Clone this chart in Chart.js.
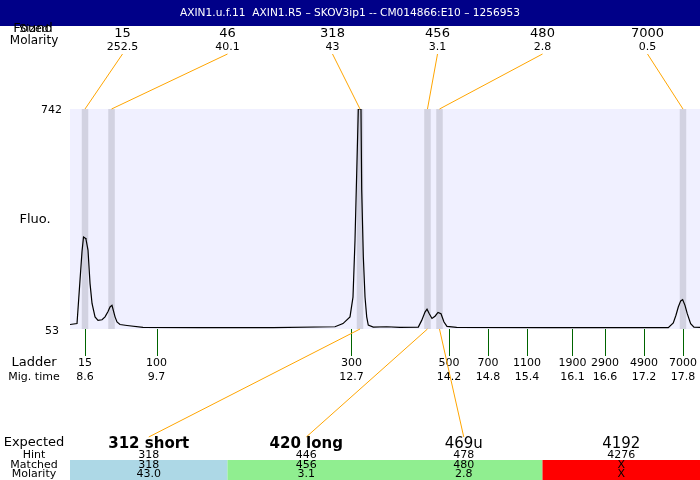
<!DOCTYPE html>
<html>
<head>
<meta charset="utf-8">
<script src="https://cdn.jsdelivr.net/npm/chart.js@4"></script>
<style>
  html, body { margin: 0; padding: 0; background: #fff; }
  #wrap { width: 700px; height: 480px; position: relative; }
</style>
</head>
<body>
<div id="wrap"><canvas id="chart" width="700" height="480"></canvas></div>
<script>
const title = "AXIN1.u.f.11  AXIN1.R5 \u2013 SKOV3ip1 -- CM014866:E10 \u2013 1256953";

// electropherogram trace (migration time, fluorescence)
const traceTimes = [8.369, 8.477, 8.523, 8.554, 8.577, 8.600, 8.615, 8.646, 8.677, 8.708, 8.754, 8.800, 8.862, 8.908, 8.954, 8.985, 9.015, 9.062, 9.092, 9.138, 9.246, 9.492, 10.369, 11.492, 12.446, 12.569, 12.677, 12.723, 12.754, 12.780, 12.805, 12.846, 12.857, 12.882, 12.908, 12.934, 12.958, 13.035, 13.241, 13.446, 13.728, 13.780, 13.831, 13.862, 13.897, 13.938, 13.985, 14.031, 14.077, 14.123, 14.169, 14.318, 15.754, 17.574, 17.651, 17.692, 17.728, 17.765, 17.795, 17.831, 17.866, 17.918, 17.969, 18.062];
const traceFluo = [67, 70, 206, 296, 341, 338, 334, 300, 196, 133, 91, 80, 82, 91, 108, 122, 127, 91, 75, 67, 64, 58, 57, 57, 60, 70, 91, 153, 331, 541, 742, 742, 488, 279, 153, 91, 65, 59, 60, 58, 59, 80, 106, 115, 101, 86, 93, 105, 101, 75, 61, 58, 57, 57, 72, 96, 122, 141, 145, 127, 101, 70, 59, 58];

// found peaks
const peakSizes = ["15", "46", "318", "456", "480", "7000"];
const peakMolarity = ["252.5", "40.1", "43", "3.1", "2.8", "0.5"];
const peakTimes = [8.6, 9.008, 12.831, 13.869, 14.054, 17.8];

// ladder
const ladderSizes = ["15", "100", "300", "500", "700", "1100", "1900", "2900", "4900", "7000"];
const ladderTimes = [8.6, 9.7, 12.7, 14.2, 14.8, 15.4, 16.1, 16.6, 17.2, 17.8];

// expected products
const expectedNames = ["312 short", "420 long", "469u", "4192"];
const expectedHints = ["318", "446", "478", "4276"];
const expectedMatched = ["318", "456", "480", "X"];
const expectedMolarity = ["43.0", "3.1", "2.8", "X"];
const expectedPeakIndex = [2, 3, 4, -1];
const expectedColors = ["#add8e6", "#90ee90", "#90ee90", "#ff0000"];

const yTicks = [53, 742];

const FONT = "DejaVu Sans, sans-serif";
const ORANGE = "#ffa500";

function txt(ctx, s, x, y, size, align, weight) {
  ctx.font = (weight || "") + " " + size + "px " + FONT;
  ctx.textAlign = align || "center";
  ctx.textBaseline = "middle";
  ctx.fillText(s, x, y);
}

function line(ctx, x1, y1, x2, y2, color) {
  ctx.strokeStyle = color;
  ctx.lineWidth = 1;
  ctx.beginPath();
  ctx.moveTo(x1, y1);
  ctx.lineTo(x2, y2);
  ctx.stroke();
}

const decorPlugin = {
  id: "decor",
  beforeDatasetsDraw(chart) {
    const { ctx, chartArea: a, scales } = chart;
    ctx.save();
    ctx.fillStyle = "#f0f0ff";
    ctx.fillRect(a.left, a.top, a.right - a.left, a.bottom - a.top);
    // peak bands
    ctx.fillStyle = "#d2d2e1";
    peakTimes.forEach((t) => {
      const x1 = scales.x.getPixelForValue(t - 0.05);
      const x2 = scales.x.getPixelForValue(t + 0.05);
      ctx.fillRect(x1, a.top, x2 - x1, a.bottom - a.top);
    });
    ctx.restore();
  },
  afterDraw(chart) {
    const { ctx, chartArea: a, scales } = chart;
    const W = chart.width;
    ctx.save();

    // title bar
    ctx.fillStyle = "#000088";
    ctx.fillRect(0, 0, W, 26);
    ctx.fillStyle = "#fff";
    txt(ctx, title, 350, 13, 10.6);

    // left header labels (two overlapping)
    ctx.fillStyle = "#000";
    txt(ctx, "Sized", 34, 29, 11);
    txt(ctx, "Found", 33, 29, 13);
    txt(ctx, "Molarity", 34, 40.5, 12);

    // found peak labels with leaders
    const colW = (a.right - a.left) / peakSizes.length;
    peakSizes.forEach((s, i) => {
      const lx = a.left + colW * (i + 0.5);
      ctx.fillStyle = "#000";
      txt(ctx, s, lx, 34, 13);
      txt(ctx, peakMolarity[i], lx, 47, 11);
      line(ctx, lx, 54, scales.x.getPixelForValue(peakTimes[i]), a.top, ORANGE);
    });

    // y labels
    ctx.fillStyle = "#000";
    txt(ctx, String(yTicks[1]), 62, scales.y.getPixelForValue(yTicks[1]) + 1, 11, "right");
    txt(ctx, String(yTicks[0]), 59, scales.y.getPixelForValue(yTicks[0]) + 2, 11, "right");
    txt(ctx, "Fluo.", 35, 220, 13);

    // ladder
    txt(ctx, "Ladder", 34, 363, 13);
    txt(ctx, "Mig. time", 34, 377, 11);
    ladderSizes.forEach((s, i) => {
      const x = scales.x.getPixelForValue(ladderTimes[i]);
      line(ctx, Math.round(x) + 0.5, a.bottom, Math.round(x) + 0.5, 356, "#006400");
      ctx.fillStyle = "#000";
      txt(ctx, s, x, 363, 11);
      txt(ctx, ladderTimes[i].toFixed(1), x, 377, 11);
    });

    // expected table
    const ew = (a.right - a.left) / expectedNames.length;
    expectedNames.forEach((n, i) => {
      const x0 = a.left + ew * i;
      ctx.fillStyle = expectedColors[i];
      ctx.fillRect(x0, 460, ew, 20);
    });
    ctx.fillStyle = "#000";
    txt(ctx, "Expected", 34, 443, 13);
    txt(ctx, "Hint", 34, 455, 11);
    txt(ctx, "Matched", 34, 465, 11);
    txt(ctx, "Molarity", 34, 474, 11);
    expectedNames.forEach((n, i) => {
      const cx = a.left + ew * (i + 0.5);
      const pi = expectedPeakIndex[i];
      if (pi >= 0) {
        line(ctx, scales.x.getPixelForValue(peakTimes[pi]), a.bottom, cx, 437, ORANGE);
      }
      ctx.fillStyle = "#000";
      txt(ctx, n, cx, 444, i < 2 ? 15 : 15, "center", i < 2 ? "bold" : "");
      txt(ctx, expectedHints[i], cx, 455, 11);
      txt(ctx, expectedMatched[i], cx, 465, 11);
      txt(ctx, expectedMolarity[i], cx, 474, 11);
    });

    ctx.restore();
  },
};

new Chart(document.getElementById("chart"), {
  type: "line",
  data: {
    datasets: [
      {
        data: traceTimes.map((t, i) => ({ x: t, y: traceFluo[i] })),
        borderColor: "#000",
        borderWidth: 1.2,
        pointRadius: 0,
        tension: 0,
        fill: false,
      },
    ],
  },
  options: {
    responsive: false,
    animation: false,
    devicePixelRatio: 1,
    layout: { padding: { left: 70, right: 0, top: 109, bottom: 151 } },
    plugins: { legend: { display: false }, tooltip: { enabled: false } },
    scales: {
      x: { type: "linear", min: 8.369, max: 18.062, display: false },
      y: { min: 53, max: 742, display: false },
    },
  },
  plugins: [decorPlugin],
});
</script>
</body>
</html>
